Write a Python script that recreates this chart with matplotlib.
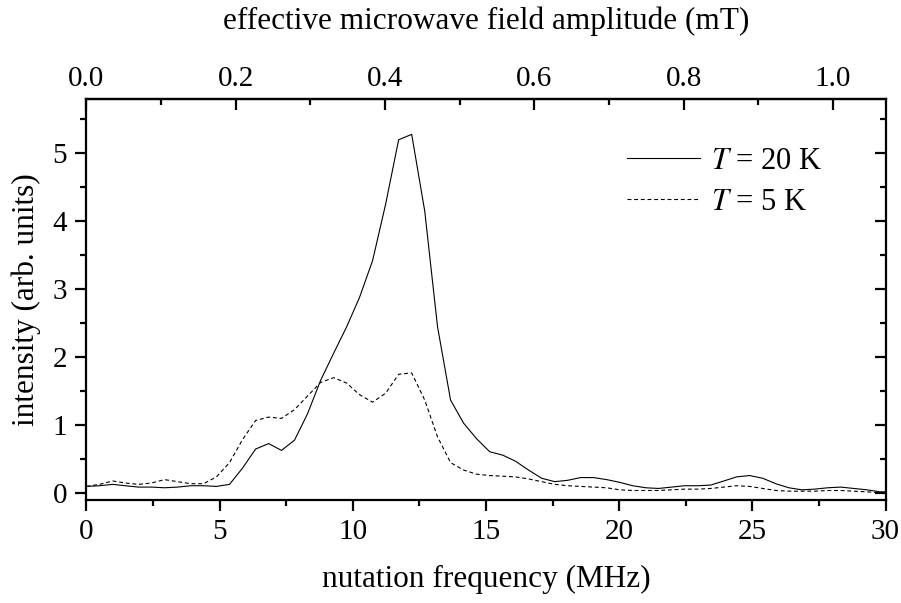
import matplotlib
matplotlib.use("Agg")
from matplotlib import pyplot as plt
from matplotlib.ticker import MultipleLocator, FixedLocator, FormatStrFormatter

plt.rcParams['font.family'] = ['Liberation Serif', 'DejaVu Serif']
plt.rcParams['mathtext.fontset'] = 'stix'

# nutation frequency grid (MHz)
freq = [0.00, 0.49, 0.98, 1.46, 1.95, 2.44, 2.93, 3.42, 3.91, 4.39,
        4.88, 5.37, 5.86, 6.35, 6.84, 7.32, 7.81, 8.30, 8.79, 9.28,
        9.77, 10.25, 10.74, 11.23, 11.72, 12.21, 12.70, 13.18, 13.67, 14.16,
        14.65, 15.14, 15.63, 16.11, 16.60, 17.09, 17.58, 18.07, 18.55, 19.04,
        19.53, 20.02, 20.51, 21.00, 21.48, 21.97, 22.46, 22.95, 23.44, 23.93,
        24.41, 24.90, 25.39, 25.88, 26.37, 26.86, 27.34, 27.83, 28.32, 28.81,
        29.30, 29.79, 30.00]

# T = 20 K
int_20K = [0.10, 0.11, 0.13, 0.11, 0.09, 0.09, 0.08, 0.09, 0.11, 0.11,
           0.10, 0.13, 0.37, 0.65, 0.73, 0.63, 0.78, 1.17, 1.66, 2.06,
           2.45, 2.88, 3.42, 4.25, 5.20, 5.28, 4.15, 2.45, 1.37, 1.03,
           0.80, 0.61, 0.56, 0.47, 0.34, 0.22, 0.17, 0.19, 0.23, 0.23,
           0.20, 0.16, 0.11, 0.08, 0.07, 0.09, 0.11, 0.11, 0.12, 0.18,
           0.24, 0.26, 0.22, 0.14, 0.08, 0.05, 0.06, 0.08, 0.09, 0.07,
           0.05, 0.02, 0.02]

# T = 5 K
int_5K = [0.10, 0.13, 0.18, 0.15, 0.13, 0.15, 0.20, 0.17, 0.14, 0.14,
          0.24, 0.45, 0.79, 1.07, 1.12, 1.10, 1.23, 1.43, 1.63, 1.70,
          1.62, 1.45, 1.34, 1.47, 1.75, 1.77, 1.37, 0.83, 0.45, 0.34,
          0.28, 0.26, 0.25, 0.24, 0.21, 0.17, 0.13, 0.11, 0.10, 0.09,
          0.08, 0.05, 0.04, 0.04, 0.04, 0.05, 0.06, 0.06, 0.07, 0.09,
          0.11, 0.10, 0.07, 0.04, 0.03, 0.03, 0.03, 0.04, 0.04, 0.03,
          0.02, 0.01, 0.01]

top_major = [0.0, 0.2, 0.4, 0.6, 0.8, 1.0]
top_minor = [0.1, 0.3, 0.5, 0.7, 0.9]

MHZ_PER_MT = 28.025  # electron, g = 2

fig = plt.figure(figsize=(9.01, 6.03), dpi=100)
ax = fig.add_axes([0.096, 0.1708, 0.8868, 0.665])

ax.plot(freq, int_20K, color='black', lw=0.8, label='$T$ = 20 K')
ax.plot(freq, int_5K, color='black', lw=0.8, ls=(0, (3.5, 2.5)), label='$T$ = 5 K')

ax.set_xlim(0, 30)
ax.set_ylim(-0.1, 5.8)
ax.xaxis.set_major_locator(MultipleLocator(5))
ax.xaxis.set_minor_locator(MultipleLocator(2.5))
ax.yaxis.set_major_locator(MultipleLocator(1))
ax.yaxis.set_minor_locator(MultipleLocator(0.5))

for s in ax.spines.values():
    s.set_linewidth(1.6)

ax.tick_params(which='both', direction='out', labelsize=21, width=1.6, pad=6)
ax.tick_params(which='major', length=8)
ax.tick_params(which='minor', length=4.5)
ax.tick_params(axis='y', which='both', right=True)
# right side ticks point inward
for t in ax.yaxis.get_major_ticks() + ax.yaxis.get_minor_ticks():
    t.tick2line.set_marker(matplotlib.lines.TICKLEFT)

ax.set_xlabel('nutation frequency (MHz)', fontsize=22.5, labelpad=14)
ax.set_ylabel('intensity (arb. units)', fontsize=22.5, labelpad=8)

top = ax.secondary_xaxis('top', functions=(lambda f: f / MHZ_PER_MT,
                                           lambda b: b * MHZ_PER_MT))
top.xaxis.set_major_locator(FixedLocator(top_major))
top.xaxis.set_minor_locator(FixedLocator(top_minor))
top.xaxis.set_major_formatter(FormatStrFormatter('%.1f'))
top.tick_params(which='both', direction='in', labelsize=21, width=1.6, pad=5)
top.tick_params(which='major', length=8)
top.tick_params(which='minor', length=4.5)
top.spines['top'].set_linewidth(1.6)
top.set_xlabel('effective microwave field amplitude (mT)', fontsize=22.5, labelpad=27)

ax.legend(loc='upper left', bbox_to_anchor=(0.676, 0.88), frameon=False,
          fontsize=22, handlelength=2.4, handletextpad=0.35,
          labelspacing=0.38, borderpad=0, borderaxespad=0)

plt.savefig('out.png', dpi=100)
